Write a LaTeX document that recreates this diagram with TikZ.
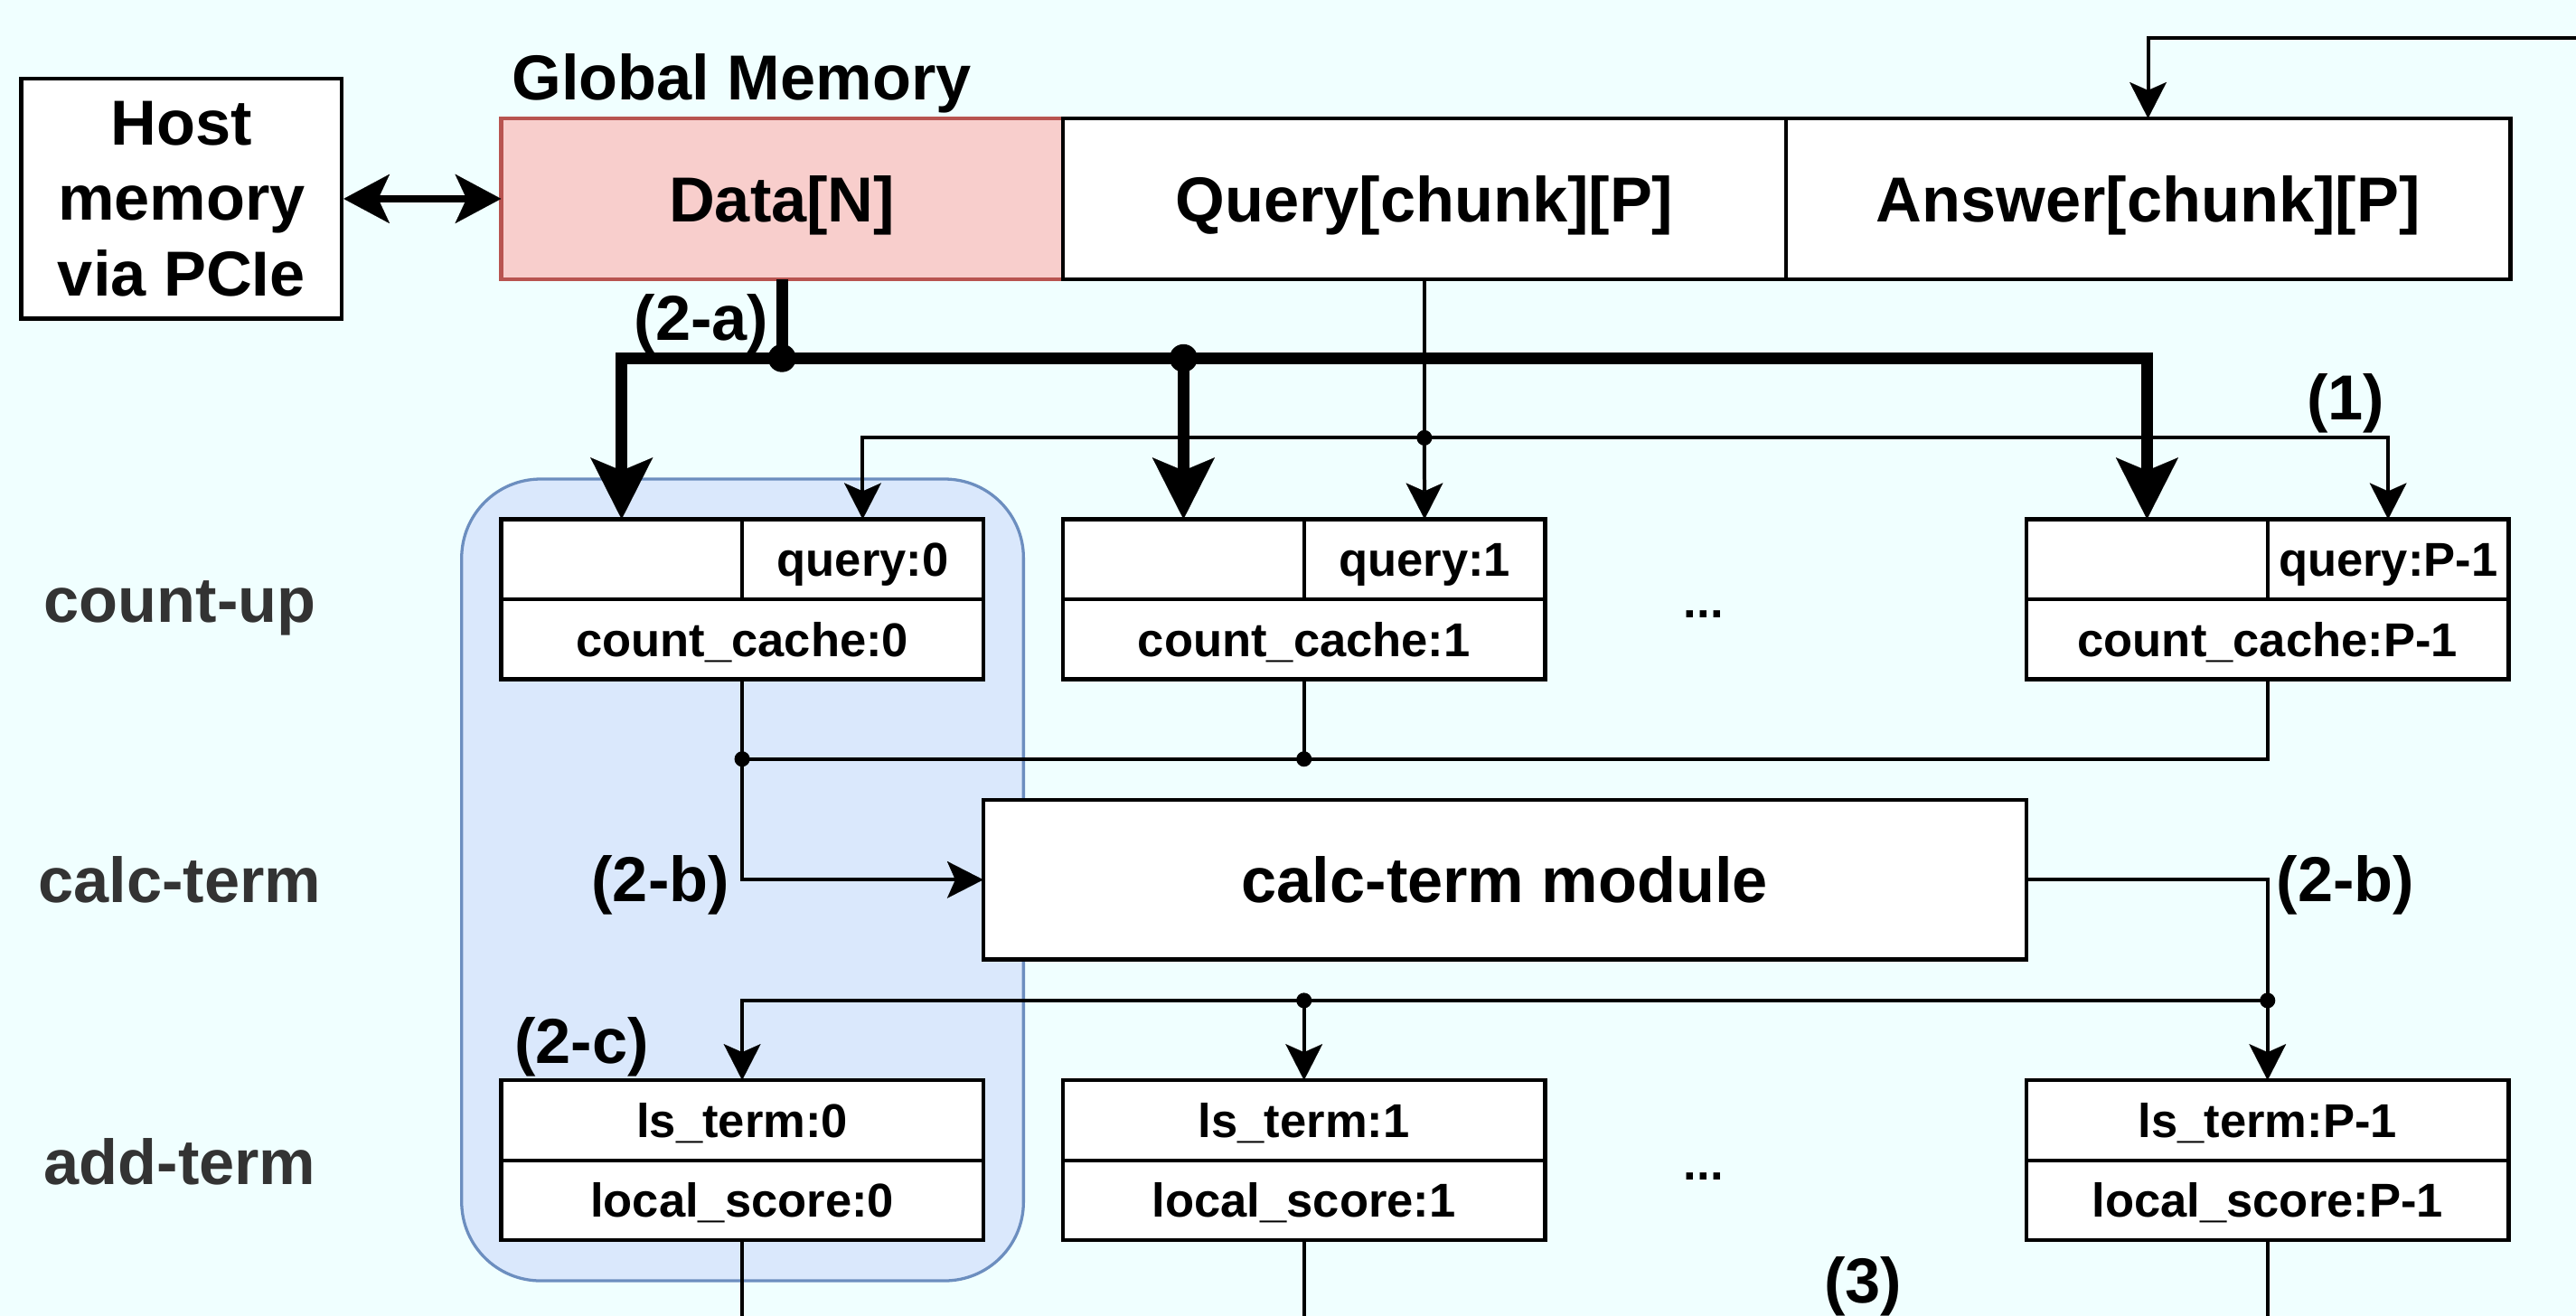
\documentclass[tikz,border=0pt]{standalone}
\usepackage{fontspec}
\setmainfont{Liberation Sans}
\usetikzlibrary{arrows.meta,positioning}
\definecolor{sfondo}{HTML}{F0FFFF}
\definecolor{rosa}{HTML}{F8CECC}
\definecolor{rosabordo}{HTML}{B85450}
\definecolor{azzurro}{HTML}{DAE8FC}
\definecolor{azzurrobordo}{HTML}{6C8EBF}
\definecolor{grigio}{HTML}{333333}
\newcommand{\fgrande}{\fontsize{38.7}{46}\selectfont\bfseries}
\newcommand{\fpiccolo}{\fontsize{28.9}{34}\selectfont\bfseries}

\begin{document}
\begin{tikzpicture}[x=1pt, y=-1pt, node distance=0pt,
    mem/.style = {draw, fill=white, line width=2.4pt, minimum height=98pt, inner sep=0pt, outer sep=0pt,
                  font=\fgrande, text height=35.6pt, text depth=7.7pt},
    cell/.style = {draw, fill=white, line width=2.4pt, minimum width=146.75pt, minimum height=48.75pt,
                   inner sep=0pt, outer sep=0pt, font=\fpiccolo, text height=26.6pt, text depth=5.8pt},
    wide/.style = {cell, minimum width=293.5pt},
    row/.style = {font=\fgrande, text=grigio, text height=35.6pt, text depth=7.7pt, inner sep=0pt},
    tag/.style = {font=\fgrande, inner sep=0pt},
    bus/.style = {line width=7pt},
    wire/.style = {line width=2.2pt},
    fina/.tip = {Stealth[length=22pt, width=22.5pt, inset=5pt, line width=0.1pt]},
    grossa/.tip = {Stealth[length=37.5pt, width=38pt, inset=8pt, line width=0.1pt]},
    media/.tip = {Stealth[length=28pt, width=30pt, inset=7pt, line width=0.1pt]}]

    \useasboundingbox (0,0) rectangle (1568,801);
    \fill[sfondo] (0,0) rectangle (1568,801);

    % Disegna la memoria host e la memoria globale
    \node[draw, fill=white, line width=2.4pt, minimum width=195pt, minimum height=146pt, inner sep=0pt,
          align=center, font=\fgrande] (host) at (110.5,121) {Host\\memory\\via PCIe};
    \node[tag, anchor=base west] (glob) at (311.5,61) {Global Memory};
    \node[mem, minimum width=342pt, fill=rosa, draw=rosabordo] (data) at (476,121) {Data[N]};
    \node[mem, minimum width=440pt] (qry) [right=of data] {Query[chunk][P]};
    \node[mem, minimum width=441pt] (ans) [right=of qry] {Answer[chunk][P]};

    % Disegna il riquadro del primo elemento
    \node[draw=azzurrobordo, fill=azzurro, line width=1.8pt, rounded corners=48pt,
          minimum width=342pt, minimum height=488pt] (pe0) at (452,535.6) {};

    % Etichette delle fasi
    \node[row] (rcu) at (109.5,365) {count-up};
    \node[row] (rct) at (109.5,535.5) {calc-term};
    \node[row] (rat) at (109.5,707) {add-term};

    % Disegna i registri count-up
    \node[cell] (cu0e) at (378.375,340.375) {};
    \node[cell] (cu0q) [right=of cu0e] {query:0};
    \node[wide] (cu0c) [below=of cu0e.south east] {count\_cache:0};
    \node[cell] (cu1e) at (720.375,340.375) {};
    \node[cell] (cu1q) [right=of cu1e] {query:1};
    \node[wide] (cu1c) [below=of cu1e.south east] {count\_cache:1};
    \node[cell] (cuPe) at (1306.875,340.375) {};
    \node[cell] (cuPq) [right=of cuPe] {query:P-1};
    \node[wide] (cuPc) [below=of cuPe.south east] {count\_cache:P-1};
    \node[font=\fpiccolo] (dots1) at (1037,374) {...};

    % Disegna il modulo calc-term
    \node[mem, minimum width=635pt, minimum height=97pt] (mod) at (916,535.5) {calc-term module};

    % Disegna i registri add-term
    \node[wide] (at0) at (451.75,681.875) {ls\_term:0};
    \node[wide] (as0) [below=of at0] {local\_score:0};
    \node[wide] (at1) at (793.75,681.875) {ls\_term:1};
    \node[wide] (as1) [below=of at1] {local\_score:1};
    \node[wide] (atP) at (1380.25,681.875) {ls\_term:P-1};
    \node[wide] (asP) [below=of atP] {local\_score:P-1};
    \node[font=\fpiccolo] (dots2) at (1037,716) {...};

    % Punti di diramazione
    \coordinate (ja) at (476,218);
    \coordinate (jb) at (720.375,218);
    \coordinate (jq) at (867,266.5);
    \coordinate (jc0) at (451.75,462);
    \coordinate (jc1) at (793.75,462);
    \coordinate (jt) at (1380.25,609);
    \coordinate (jd) at (793.75,609);
    \coordinate (ret) at (1575,23);
    \coordinate (f0) at (451.75,812);
    \coordinate (f1) at (793.75,812);
    \coordinate (fP) at (1380.25,812);

    % Disegna gli archi
    \draw[line width=4.6pt, media-media] (host) -- (data);
    \draw[wire, -fina] (ret) -| (ans.north);

    \draw[bus] (data.south) -- (ja);
    \draw[bus, -grossa] (ja) -| (cu0e.north);
    \draw[bus] (ja) -- (jb);
    \draw[bus, -grossa] (jb) -- (cu1e.north);
    \draw[bus, -grossa] (jb) -| (cuPe.north);

    \draw[wire] (qry.south) -- (jq);
    \draw[wire, -fina] (jq) -| (cu0q.north);
    \draw[wire, -fina] (jq) -- (cu1q.north);
    \draw[wire, -fina] (jq) -| (cuPq.north);

    \draw[wire] (cu0c.south) -- (jc0);
    \draw[wire] (cu1c.south) -- (jc1);
    \draw[wire] (cuPc.south) |- (jc0);
    \draw[wire, -fina] (jc0) |- (mod.west);

    \draw[wire] (mod.east) -| (jt);
    \draw[wire, -fina] (jt) -- (atP.north);
    \draw[wire, -fina] (jt) -| (at0.north);
    \draw[wire, -fina] (jd) -- (at1.north);

    \draw[wire] (as0.south) -- (f0);
    \draw[wire] (as1.south) -- (f1);
    \draw[wire] (asP.south) -- (fP);

    \fill (ja) circle (8.5pt);
    \fill (jb) circle (8.5pt);
    \foreach \p in {jq, jc0, jc1, jt, jd} \fill (\p) circle (4.7pt);

    % Etichette dei passi
    \node[tag] (l2a) at (427,197) {(2-a)};
    \node[tag] (l1) at (1427.7,245.6) {(1)};
    \node[tag] (l2b) at (402,539) {(2-b)};
    \node[tag] (l2bb) at (1427.7,539) {(2-b)};
    \node[tag] (l2c) at (354,637) {(2-c)};
    \node[tag] (l3) at (1134,783) {(3)};
\end{tikzpicture}
\end{document}
